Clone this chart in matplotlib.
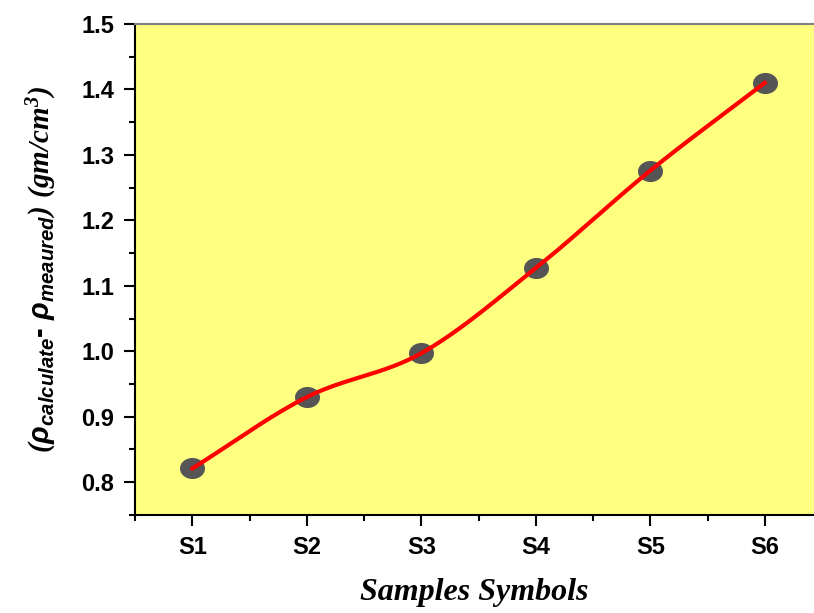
import numpy as np
import matplotlib
matplotlib.use("Agg")
import matplotlib.pyplot as plt
from matplotlib.path import Path
from matplotlib.ticker import MultipleLocator

samples = ["S1", "S2", "S3", "S4", "S5", "S6"]
density_diff = [0.821, 0.930, 0.997, 1.127, 1.276, 1.410]

plt.rcParams['mathtext.fontset'] = 'custom'
plt.rcParams['mathtext.it'] = 'Liberation Sans:italic:bold'
plt.rcParams['mathtext.rm'] = 'Liberation Sans:bold'
plt.rcParams['mathtext.bf'] = 'Liberation Serif:italic:bold'


def catmull_rom(x, y, n=40):
    # smooth line through the points (Catmull-Rom, end points repeated)
    px = np.concatenate([[2 * x[0] - x[1]], x, [2 * x[-1] - x[-2]]]).astype(float)
    py = np.concatenate([[2 * y[0] - y[1]], y, [2 * y[-1] - y[-2]]]).astype(float)
    xs, ys = [], []
    t = np.linspace(0, 1, n)
    for i in range(1, len(px) - 2):
        for p, out in ((px, xs), (py, ys)):
            p0, p1, p2, p3 = p[i - 1], p[i], p[i + 1], p[i + 2]
            out.extend(0.5 * (2 * p1 + (-p0 + p2) * t
                              + (2 * p0 - 5 * p1 + 4 * p2 - p3) * t ** 2
                              + (-p0 + 3 * p1 - 3 * p2 + p3) * t ** 3))
    return np.array(xs), np.array(ys)


xpos = np.arange(1, len(samples) + 1)
xs, ys = catmull_rom(xpos, density_diff)

t = np.linspace(0, 2 * np.pi, 60)
ellipse = Path(np.column_stack([1.2 * np.cos(t), np.sin(t)]), closed=True)

fig = plt.figure(figsize=(8.14, 6.13), dpi=100)
ax = fig.add_axes([0.166, 0.16, 0.834, 0.801])
ax.set_facecolor('#ffff80')

ax.plot(xpos, density_diff, linestyle='none', marker=ellipse, markersize=17,
        color='#555555', zorder=2)
ax.plot(xs, ys, color='red', linewidth=3, zorder=3)

ax.set_xlim(0.5, 6.43)
ax.set_ylim(0.75, 1.5)
ax.set_xticks(xpos)
ax.set_xticklabels(samples)
ax.xaxis.set_minor_locator(MultipleLocator(0.5))
ax.yaxis.set_major_locator(MultipleLocator(0.1))
ax.yaxis.set_minor_locator(MultipleLocator(0.05))
ax.tick_params(which='major', direction='out', length=8, width=1.5, labelsize=17, pad=7)
ax.tick_params(which='minor', direction='out', length=4, width=1.5)
for lab in ax.get_xticklabels() + ax.get_yticklabels():
    lab.set_fontweight('bold')
    lab.set_family('Liberation Sans')

ax.spines['left'].set_linewidth(1.5)
ax.spines['bottom'].set_linewidth(1.5)
ax.spines['top'].set_color('#808080')
ax.spines['top'].set_linewidth(1.5)
ax.spines['right'].set_visible(False)

ax.set_xlabel('Samples Symbols', fontsize=23, family='Liberation Serif',
              style='italic', fontweight='bold', labelpad=14)
ax.set_ylabel(r'$\mathbf{(}\rho_{\mathit{calculate}}\mathrm{\text{-}}\ \rho_{\mathit{meaured}}\mathbf{)\ (gm/cm^{3})}$',
              fontsize=21, labelpad=16)

fig.savefig('out.png', dpi=100)
